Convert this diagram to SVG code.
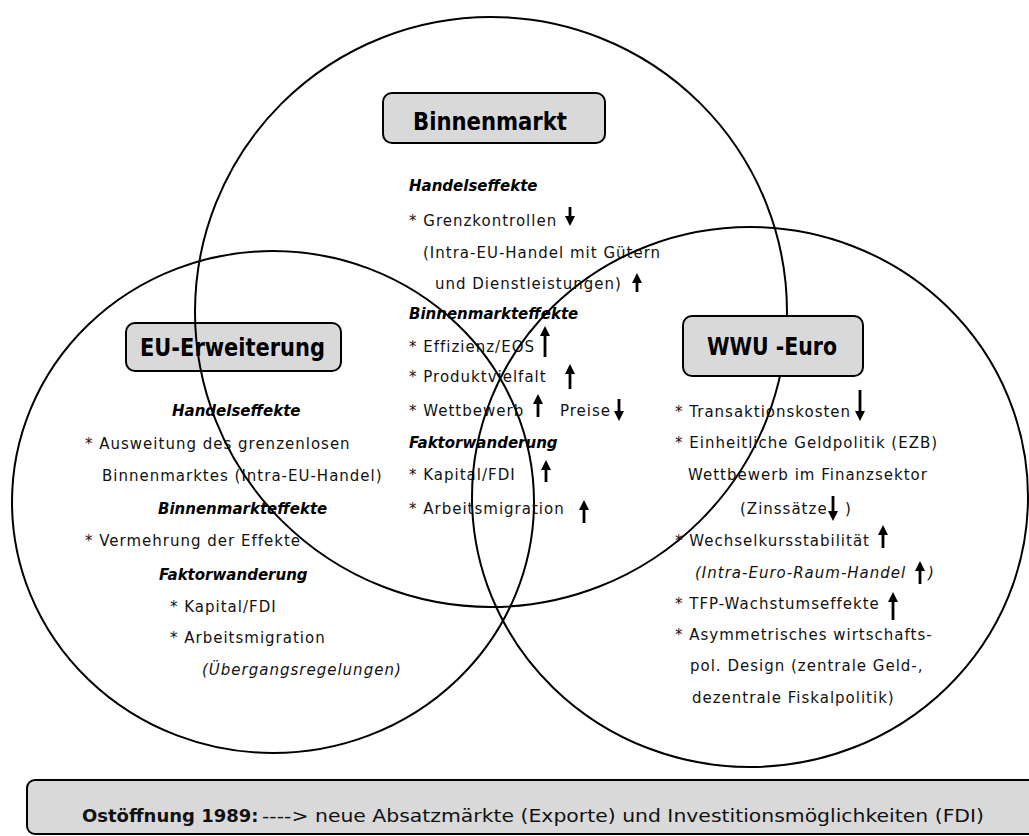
<svg xmlns="http://www.w3.org/2000/svg" width="1029" height="836" viewBox="0 0 1029 836">
<defs>
<marker id="ah" viewBox="0 0 10 10" refX="2" refY="5" markerWidth="10" markerHeight="10" markerUnits="userSpaceOnUse" orient="auto">
<path d="M0,0 L10,5 L0,10 z" fill="#000"/>
</marker>
</defs>
<style>
.t{font-family:"DejaVu Sans",sans-serif;font-size:15px;letter-spacing:1px;fill:#111}
.h{font-family:"DejaVu Sans",sans-serif;font-size:15px;font-weight:bold;font-style:italic;fill:#000}
.i{font-style:italic}
.box{fill:#d9d9d9;stroke:#000;stroke-width:2}
.title{font-family:"DejaVu Sans",sans-serif;font-size:24px;font-weight:bold;fill:#000}
.circ{fill:none;stroke:#000;stroke-width:2}
.arr{stroke:#000;stroke-width:2.8;marker-end:url(#ah)}
.bt{font-family:"DejaVu Sans",sans-serif;font-size:18px;fill:#111}
</style>
<rect width="1029" height="836" fill="#fff"/>

<g id="eu-erweiterung">
<rect class="box" x="126" y="323" width="215" height="48" rx="9"/>
<text class="title" x="140" y="356" textLength="185" lengthAdjust="spacingAndGlyphs">EU-Erweiterung</text>
<text class="h" x="172" y="416">Handelseffekte</text>
<text class="t" x="85" y="449">* Ausweitung des grenzenlosen</text>
<text class="t" x="102" y="481">Binnenmarktes (Intra-EU-Handel)</text>
<text class="h" x="158" y="514">Binnenmarkteffekte</text>
<text class="t" x="85" y="546">* Vermehrung der Effekte</text>
<text class="h" x="159" y="580">Faktorwanderung</text>
<text class="t" x="170" y="612">* Kapital/FDI</text>
<text class="t" x="170" y="643">* Arbeitsmigration</text>
<text class="t i" x="202" y="675">(Übergangsregelungen)</text>
</g>

<g id="binnenmarkt">
<rect class="box" x="383" y="93" width="222" height="50" rx="9"/>
<text class="title" x="413" y="130" textLength="154" lengthAdjust="spacingAndGlyphs">Binnenmarkt</text>
<text class="h" x="409" y="191">Handelseffekte</text>
<text class="t" x="409" y="226">* Grenzkontrollen</text>
<text class="t" x="423" y="258">(Intra-EU-Handel mit Gütern</text>
<text class="t" x="435" y="289">und Dienstleistungen)</text>
<text class="h" x="409" y="319">Binnenmarkteffekte</text>
<text class="t" x="409" y="352">* Effizienz/EOS</text>
<text class="t" x="409" y="382">* Produktvielfalt</text>
<text class="t" x="409" y="416">* Wettbewerb</text>
<text class="t" x="560" y="416">Preise</text>
<text class="h" x="409" y="448">Faktorwanderung</text>
<text class="t" x="409" y="480">* Kapital/FDI</text>
<text class="t" x="409" y="514">* Arbeitsmigration</text>
</g>

<g id="sets">
<ellipse class="circ" cx="491" cy="312" rx="296" ry="295"/>
<ellipse class="circ" cx="273" cy="502" rx="261" ry="251"/>
<ellipse class="circ" cx="750" cy="497" rx="278" ry="270"/>
</g>

<g id="wwu-euro">
<rect class="box" x="683" y="316" width="180" height="60" rx="9"/>
<text class="title" x="707" y="355" textLength="130" lengthAdjust="spacingAndGlyphs">WWU -Euro</text>
<text class="t" x="675" y="417">* Transaktionskosten</text>
<text class="t" x="675" y="448">* Einheitliche Geldpolitik (EZB)</text>
<text class="t" x="688" y="480">Wettbewerb im Finanzsektor</text>
<text class="t" x="740" y="514">(Zinssätze</text>
<text class="t" x="845" y="514">)</text>
<text class="t" x="675" y="546">* Wechselkursstabilität</text>
<text class="t i" x="695" y="578">(Intra-Euro-Raum-Handel</text>
<text class="t i" x="928" y="578">)</text>
<text class="t" x="675" y="609">* TFP-Wachstumseffekte</text>
<text class="t" x="675" y="640">* Asymmetrisches wirtschafts-</text>
<text class="t" x="690" y="671">pol. Design (zentrale Geld-,</text>
<text class="t" x="692" y="703">dezentrale Fiskalpolitik)</text>
</g>

<g id="arrows">
<line class="arr" x1="570" y1="207" x2="570" y2="218"/>
<line class="arr" x1="637" y1="292" x2="637" y2="281"/>
<line class="arr" x1="545" y1="357" x2="545" y2="334"/>
<line class="arr" x1="570" y1="389" x2="570" y2="372"/>
<line class="arr" x1="538" y1="417" x2="538" y2="402"/>
<line class="arr" x1="619" y1="399" x2="619" y2="413"/>
<line class="arr" x1="546" y1="482" x2="546" y2="468"/>
<line class="arr" x1="584" y1="523" x2="584" y2="508"/>
<line class="arr" x1="860" y1="390" x2="860" y2="413"/>
<line class="arr" x1="833" y1="496" x2="833" y2="513"/>
<line class="arr" x1="883" y1="548" x2="883" y2="533"/>
<line class="arr" x1="920" y1="584" x2="920" y2="569"/>
<line class="arr" x1="893" y1="620" x2="893" y2="600"/>
</g>

<g id="ostoeffnung">
<rect class="box" x="27" y="780" width="1010" height="54" rx="8"/>
<text class="bt" x="82" y="822" font-weight="bold">Ostöffnung 1989:</text>
<text class="bt" x="262" y="822" textLength="722" lengthAdjust="spacingAndGlyphs">----&gt; neue Absatzmärkte (Exporte) und Investitionsmöglichkeiten (FDI)</text>
</g>
</svg>
